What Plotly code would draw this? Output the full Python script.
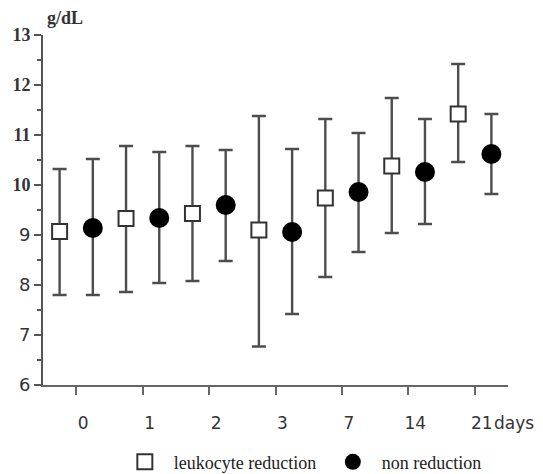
import numpy as np
import plotly.graph_objects as go

days = ["0", "1", "2", "3", "7", "14", "21"]
lr_mean = [9.07, 9.33, 9.43, 9.10, 9.74, 10.38, 11.42]
lr_upper = [10.32, 10.78, 10.78, 11.38, 11.32, 11.74, 12.42]
lr_lower = [7.80, 7.86, 8.08, 6.77, 8.16, 9.04, 10.46]
nr_mean = [9.14, 9.34, 9.60, 9.06, 9.86, 10.26, 10.62]
nr_upper = [10.52, 10.66, 10.70, 10.72, 11.04, 11.32, 11.42]
nr_lower = [7.80, 8.04, 8.48, 7.42, 8.66, 9.22, 9.82]
y_ticks = [6, 7, 8, 9, 10, 11, 12, 13]

idx = np.arange(len(days))
SERIF = "Liberation Serif, Times New Roman, serif"
SANS = "DejaVu Sans, Verdana, sans-serif"

def err(mean, upper, lower):
    return dict(
        type="data", symmetric=False,
        array=[u - m for u, m in zip(upper, mean)],
        arrayminus=[m - l for m, l in zip(mean, lower)],
        color="#4d4d4d", thickness=2.4, width=7,
    )

fig = go.Figure()
fig.add_trace(go.Scatter(
    x=idx - 0.25, y=lr_mean, mode="markers", name="\u00a0\u00a0leukocyte reduction",
    marker=dict(symbol="square", size=15, color="white",
                line=dict(color="#333333", width=2)),
    error_y=err(lr_mean, lr_upper, lr_lower),
))
fig.add_trace(go.Scatter(
    x=idx + 0.25, y=nr_mean, mode="markers", name="\u00a0\u00a0non reduction",
    marker=dict(symbol="circle", size=20, color="black",
                line=dict(color="black", width=0)),
    error_y=err(nr_mean, nr_upper, nr_lower),
))

y_text = []
for v in y_ticks:
    if v >= 10:
        y_text.append(f'<span style="font-family:{SERIF};font-weight:bold">{v}</span>')
    else:
        y_text.append(f'<span style="font-family:{SANS}">{v}</span>')

fig.update_layout(
    width=543, height=474,
    margin=dict(l=43, r=35, t=35, b=89, autoexpand=False),
    paper_bgcolor="white", plot_bgcolor="white",
    showlegend=True,
    legend=dict(orientation="h", x=0.176, xanchor="left",
                y=0.025, yref="container", yanchor="middle",
                entrywidth=163,
                font=dict(family=SERIF, size=18, color="#222222"),
                bgcolor="rgba(0,0,0,0)", itemclick=False),
    xaxis=dict(
        range=[-0.5, 6.5], tickmode="array", tickvals=list(idx), ticktext=days,
        showgrid=False, zeroline=False,
        showline=True, linecolor="#666666", linewidth=2,
        ticks="outside", ticklen=8, tickwidth=2, tickcolor="#666666",
        tickfont=dict(family=SANS, size=17, color="#333333"),
        ticklabelstandoff=14, ticklabelshift=7,
    ),
    yaxis=dict(
        range=[6, 13], tickmode="array", tickvals=y_ticks, ticktext=y_text,
        showgrid=False, zeroline=False,
        showline=True, linecolor="#555555", linewidth=2,
        ticks="outside", ticklen=7, tickwidth=2, tickcolor="#555555",
        tickfont=dict(family=SANS, size=18, color="#333333"),
        ticklabelstandoff=0,
        minor=dict(dtick=0.5, ticks="outside", ticklen=4, tickwidth=2, tickcolor="#555555", showgrid=False),
    ),
    annotations=[
        dict(text="<b>g/dL</b>", x=0, xref="paper", xanchor="left", xshift=2,
             y=13, yref="y", yanchor="bottom", yshift=5, showarrow=False,
             font=dict(family=SERIF, size=18, color="#333333")),
        dict(text="days", x=6, xref="x", xanchor="left", xshift=17,
             y=-0.1086, yref="paper", yanchor="middle", showarrow=False,
             font=dict(family=SANS, size=17, color="#333333")),
    ],
)

fig.write_html("out.html")
